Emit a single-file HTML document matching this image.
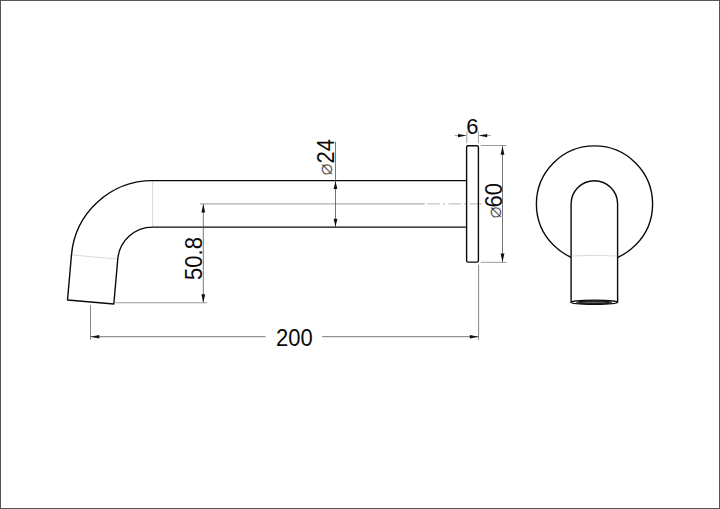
<!DOCTYPE html>
<html lang="en">
<head>
<meta charset="utf-8">
<title>Wall spout 200 - dimension drawing</title>
<style>
  html, body { margin: 0; padding: 0; background: #ffffff; }
  body { width: 720px; height: 509px; overflow: hidden; }
  svg { display: block; }
  .o  { fill: none; stroke: #0a0a0a; stroke-width: 1.4; stroke-linecap: round; stroke-linejoin: round; }
  .ow { fill: #fff; stroke: #0a0a0a; stroke-width: 1.4; stroke-linejoin: round; }
  .d  { fill: none; stroke: #4a4a4a; stroke-width: 0.75; }
  .d2 { fill: none; stroke: #666; stroke-width: 0.8; }
  .e  { fill: none; stroke: #909090; stroke-width: 0.9; }
  .c  { fill: none; stroke: #b5b5b5; stroke-width: 1; }
  .t  { fill: none; stroke: #d6d6d6; stroke-width: 0.9; }
  .a  { fill: #111; stroke: none; }
  text { font-family: "Liberation Sans", sans-serif; font-size: 22px; fill: #0a0a0a; }
  .dia { font-family: "DejaVu Sans", "Liberation Sans", sans-serif; font-size: 20.5px; fill: #1c1c1c; stroke: #fff; stroke-width: 0.42; }
</style>
</head>
<body>
<svg width="720" height="509" viewBox="0 0 720 509">
  <rect x="0" y="0" width="720" height="509" fill="#ffffff"/>
  <rect x="0.5" y="0.5" width="719" height="508" fill="none" stroke="#565656" stroke-width="1"/>

  <!-- ===== side view ===== -->
  <g id="side">
    <!-- tangent edges -->
    <line class="t" x1="152.6" y1="181" x2="152.6" y2="226.6"/>
    <line class="t" x1="71.86" y1="254.95" x2="117.38" y2="259.00"/>
    <!-- centre line / extension -->
    <line class="e" x1="199.9" y1="203.9" x2="424.7" y2="203.9"/>
    <line class="c" x1="427.5" y1="203.9" x2="482.5" y2="203.9" stroke-dasharray="12.5 3.2 2 3.2"/>
    <!-- pipe outline -->
    <path class="o" d="M466.6 180.6 H152.6 A81.45 81.45 0 0 0 71.46 254.95 L67.52 299.98 L113.84 304.03 L117.78 259.00 A34.95 34.95 0 0 1 152.6 227.10 H466.6"/>
    <!-- flange -->
    <rect class="o" x="466.6" y="145.8" width="11.8" height="116.3" rx="1.4" ry="1.4"/>
  </g>

  <!-- ===== front view ===== -->
  <g id="front">
    <circle class="o" cx="594.5" cy="204" r="58.1"/>
    <path class="ow" style="stroke-width:1.4" d="M571.1 302.2 V204 A23.25 23.25 0 0 1 617.6 204 V302.2 Z" />
    <path class="t" d="M571.8 256 Q594.5 254.6 617.2 256"/>
    <ellipse cx="594.3" cy="302.35" rx="23.2" ry="2.15" fill="#fff" stroke="#0a0a0a" stroke-width="1.2"/>
    <ellipse cx="594.3" cy="302.5" rx="17.6" ry="1.55" fill="#8a8a8a" stroke="#111" stroke-width="1"/>
    <ellipse cx="594.3" cy="302.6" rx="14.6" ry="0.9" fill="#777" stroke="#111" stroke-width="0.9"/>
  </g>

  <!-- ===== dimensions ===== -->
  <g id="dims">
    <!-- dia 24 -->
    <line class="d" x1="335.5" y1="141.7" x2="335.5" y2="227.1"/>
    <path class="a" d="M335.5 180.9 l-1.9 8 h3.8 z"/>
    <path class="a" d="M335.5 226.8 l-1.9 -8 h3.8 z"/>
    <!-- 50.8 -->
    <line class="d" x1="203.3" y1="203.9" x2="203.3" y2="302.75"/>
    <path class="a" d="M203.3 203.9 l-1.9 8.6 h3.8 z"/>
    <path class="a" d="M203.3 302.75 l-1.9 -8.6 h3.8 z"/>
    <line class="e" x1="115.5" y1="302.75" x2="207" y2="302.75"/>
    <!-- 200 -->
    <line class="d" x1="90.5" y1="336.7" x2="265.6" y2="336.7"/>
    <line class="d" x1="322.2" y1="336.7" x2="478.6" y2="336.7"/>
    <path class="a" d="M90.5 336.7 l8.8 -1.7 v3.4 z"/>
    <path class="a" d="M478.6 336.7 l-8.8 -1.7 v3.4 z"/>
    <line class="d2" x1="90.5" y1="305" x2="90.5" y2="339.8"/>
    <line class="d2" x1="478.6" y1="264.7" x2="478.6" y2="339.8"/>
    <!-- 6 -->
    <line class="e" x1="454.7" y1="135.6" x2="458" y2="135.6"/>
    <line class="e" x1="487" y1="135.6" x2="490.8" y2="135.6"/>
    <path class="a" d="M466.8 135.6 l-8.8 -1.7 v3.4 z"/>
    <path class="a" d="M478.4 135.6 l8.8 -1.7 v3.4 z"/>
    <line class="e" x1="466.8" y1="131.5" x2="466.8" y2="143.3"/>
    <line class="e" x1="478.4" y1="131.5" x2="478.4" y2="143.3"/>
    <!-- dia 60 -->
    <line class="d" x1="502.5" y1="145.9" x2="502.5" y2="262.3"/>
    <path class="a" d="M502.5 145.9 l-1.9 8.8 h3.8 z"/>
    <path class="a" d="M502.5 262.3 l-1.9 -8.8 h3.8 z"/>
    <line class="e" x1="480.7" y1="145.5" x2="506.6" y2="145.5"/>
    <line class="e" x1="480.7" y1="262.3" x2="506.6" y2="262.3"/>
  </g>

  <!-- ===== labels ===== -->
  <g id="labels">
    <text transform="translate(472.3 133.9) scale(1 1.04)" text-anchor="middle">6</text>
    <text transform="translate(294.3 345.6) scale(1 1.06)" text-anchor="middle">200</text>
    <text transform="translate(202.2 258.5) rotate(-90) scale(1 1.06)" text-anchor="middle">50.8</text>
    <text transform="translate(334.2 163.5) rotate(-90) scale(1 1.06)">24</text>
    <text class="dia" transform="translate(332.2 175.6) rotate(-90)">⌀</text>
    <text transform="translate(501.7 207.6) rotate(-90) scale(1 1.06)">60</text>
    <text class="dia" transform="translate(500.6 218.6) rotate(-90)">⌀</text>
  </g>
</svg>
</body>
</html>
